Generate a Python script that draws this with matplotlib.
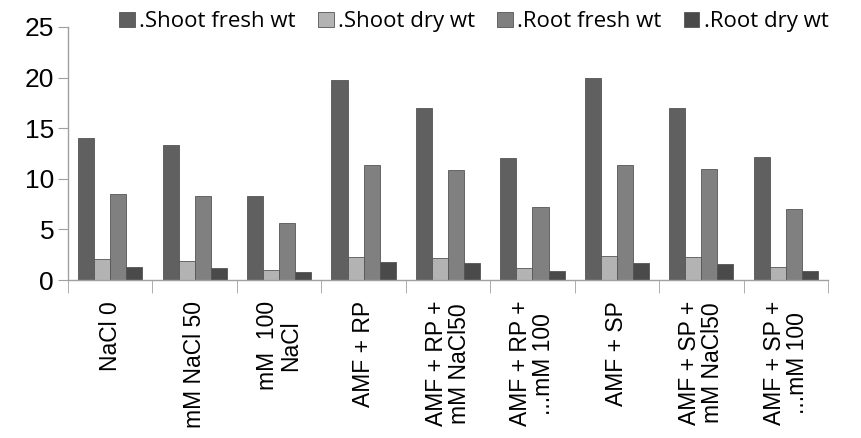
import matplotlib
matplotlib.use("Agg")
import matplotlib.pyplot as plt
import numpy as np
from matplotlib.patches import Patch

# data
groups = ["NaCl 0", "mM NaCl 50", "mM  100\nNaCl", "AMF + RP", "AMF + RP +\nmM NaCl50",
          "AMF + RP +\n...mM 100", "AMF + SP", "AMF + SP +\nmM NaCl50", "AMF + SP +\n...mM 100"]
series = [".Shoot fresh wt", ".Shoot dry wt", ".Root fresh wt", ".Root dry wt"]
shoot_fresh = [14.0, 13.3, 8.3, 19.8, 17.0, 12.1, 20.0, 17.0, 12.2]
shoot_dry = [2.1, 1.9, 1.0, 2.3, 2.2, 1.2, 2.4, 2.3, 1.3]
root_fresh = [8.5, 8.3, 5.6, 11.4, 10.9, 7.2, 11.4, 11.0, 7.0]
root_dry = [1.3, 1.2, 0.8, 1.8, 1.7, 0.9, 1.7, 1.6, 0.9]
colors = ["#606060", "#b3b3b3", "#808080", "#4a4a4a"]

fig = plt.figure(figsize=(8.62, 4.38), dpi=100)
ax = fig.add_axes([0.0789, 0.3607, 0.8817, 0.5777])

x = np.arange(len(groups))
w = 0.19
vals = [shoot_fresh, shoot_dry, root_fresh, root_dry]
for i, (v, c) in enumerate(zip(vals, colors)):
    ax.bar(x + (i - 1.5) * w, v, w, color=c, edgecolor="#555555", linewidth=0.6)

ax.set_xlim(-0.5, len(groups) - 0.5)
ax.set_ylim(0, 25)
ax.set_yticks([0, 5, 10, 15, 20, 25])
ax.tick_params(axis="y", labelsize=19, length=7, color="#a0a0a0", pad=3)
for t in ax.get_yticklabels():
    t.set_family("Liberation Sans")

ax.set_xticks(x)
ax.set_xticklabels(groups, rotation=90, fontsize=16.5, family="Liberation Sans",
                   va="top", ha="center", linespacing=1.0)
ax.tick_params(axis="x", length=0, pad=15)
ax.set_xticks(np.arange(-0.5, len(groups)), minor=True)
ax.tick_params(axis="x", which="minor", length=9, color="#a0a0a0", direction="out")

for s in ["top", "right"]:
    ax.spines[s].set_visible(False)
for s in ["left", "bottom"]:
    ax.spines[s].set_color("#a0a0a0")
    ax.spines[s].set_linewidth(1.0)

handles = [Patch(facecolor=c, edgecolor="#555555", linewidth=0.6) for c in colors]
fig.legend(handles, series, loc="upper left", bbox_to_anchor=(0.115, 1.02), ncol=4,
           frameon=False, prop={"family": "Open Sans", "size": 16},
           handlelength=0.7, handleheight=0.7, handletextpad=0.2, columnspacing=1.0)

fig.savefig("out.png", dpi=100)
